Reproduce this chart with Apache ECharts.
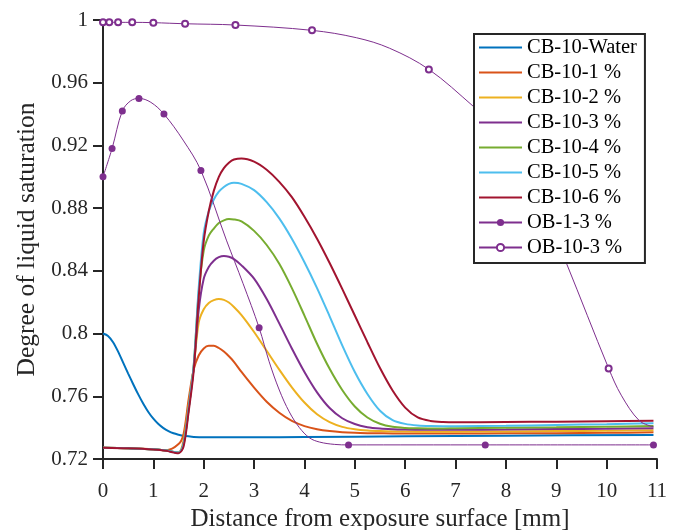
<!DOCTYPE html>
<html><head><meta charset="utf-8">
<script src="https://cdn.jsdelivr.net/npm/echarts@6/dist/echarts.min.js"></script>
<style>html,body{margin:0;padding:0;background:#fff}#c{width:678px;height:530px}</style>
</head><body><div id="c"></div>
<script>
// ---------- data ----------
const xTicks = [0,1,2,3,4,5,6,7,8,9,10,11];
const yTicks = [0.72,0.76,0.8,0.84,0.88,0.92,0.96,1];
const yTickLabels = ['0.72','0.76','0.8','0.84','0.88','0.92','0.96','1'];
const seriesNames = ['CB-10-Water','CB-10-1 %','CB-10-2 %','CB-10-3 %','CB-10-4 %','CB-10-5 %','CB-10-6 %','OB-1-3 %','OB-10-3 %'];

const waterX = [0,0.1,0.2,0.3,0.4,0.5,0.6,0.7,0.8,0.9,1.0,1.1,1.2,1.3,1.4,1.5,1.6,1.8,2.0,3,4,6,8,10.93];
const waterY = [0.800,0.7985,0.7945,0.7885,0.7815,0.7745,0.7677,0.7612,0.7552,0.750,0.7457,0.7423,0.7397,0.7378,0.7364,0.7355,0.7348,0.7341,0.7338,0.7338,0.734,0.7345,0.7349,0.7353];

const cbX = [0,0.5,1.0,1.25,1.5,1.6,1.7,1.8,1.9,2.0,2.1,2.2,2.3,2.4,2.5,2.6,2.75,3.0,3.25,3.5,3.75,4.0,4.25,4.5,4.75,5.0,5.25,5.5,5.75,6.0,6.25,6.5,6.75,7.0,8.0,9.0,10.0,10.93];
const cb1 = [0.7272,0.7268,0.7262,0.7256,0.7295,0.736,0.758,0.777,0.786,0.7905,0.7922,0.7922,0.7908,0.7885,0.7855,0.782,0.7755,0.7655,0.7565,0.7495,0.7443,0.741,0.739,0.7378,0.7371,0.7367,0.7365,0.7364,0.7363,0.7363,0.7363,0.7363,0.7363,0.7363,0.7364,0.7365,0.7367,0.737];
const cb2 = [0.7272,0.7268,0.7262,0.7254,0.7242,0.732,0.754,0.778,0.807,0.8155,0.8195,0.8213,0.822,0.8215,0.8198,0.817,0.8118,0.801,0.789,0.777,0.7657,0.756,0.7485,0.7435,0.7405,0.739,0.7382,0.7378,0.7376,0.7375,0.7374,0.7374,0.7374,0.7374,0.7376,0.7378,0.738,0.7383];
const cb3 = [0.7272,0.7268,0.7262,0.7254,0.724,0.730,0.752,0.778,0.815,0.835,0.8425,0.8465,0.8487,0.8495,0.849,0.8475,0.8435,0.835,0.822,0.8065,0.7905,0.7755,0.7625,0.7525,0.746,0.7423,0.7403,0.7394,0.739,0.7388,0.7387,0.7387,0.7387,0.7387,0.7388,0.7391,0.7393,0.7396];
const cb4 = [0.7272,0.7268,0.7262,0.7254,0.724,0.7295,0.752,0.779,0.826,0.853,0.8625,0.867,0.8705,0.8722,0.873,0.8728,0.8715,0.8655,0.8565,0.8445,0.829,0.8115,0.7935,0.7775,0.764,0.7535,0.7465,0.7425,0.7405,0.7398,0.7396,0.7395,0.7395,0.7396,0.7399,0.7402,0.7406,0.741];
const cb5 = [0.7272,0.7268,0.7262,0.7254,0.724,0.7295,0.752,0.779,0.829,0.864,0.878,0.8855,0.8905,0.8935,0.8955,0.8962,0.8955,0.8915,0.8838,0.8735,0.8605,0.8455,0.829,0.811,0.7925,0.7755,0.7615,0.7508,0.7448,0.7424,0.7414,0.741,0.7409,0.7409,0.7412,0.7417,0.7422,0.7428];
const cb6 = [0.7272,0.7268,0.726,0.7252,0.7237,0.728,0.750,0.776,0.823,0.859,0.878,0.891,0.900,0.9055,0.909,0.911,0.9117,0.9097,0.9045,0.8968,0.887,0.8745,0.8605,0.845,0.8285,0.8115,0.7945,0.778,0.7637,0.7528,0.7465,0.7443,0.7436,0.7434,0.7436,0.7438,0.7441,0.7444];

const ob1X = [0,0.18,0.384,0.55,0.714,0.95,1.21,1.59,1.944,2.45,2.78,3.10,3.3,3.5,3.7,3.9,4.1,4.3,4.6,4.875,7.59,10.93];
const ob1Y = [0.900,0.918,0.942,0.9485,0.950,0.9475,0.940,0.9234,0.904,0.8596,0.832,0.8037,0.782,0.764,0.750,0.740,0.7335,0.7308,0.7293,0.729,0.729,0.729];
const ob1MarkX = [0,0.18,0.384,0.714,1.21,1.944,3.10,4.875,7.59,10.93];

const ob10X = [0,0.125,0.30,0.58,1.0,1.63,2.63,4.15,5.03,5.69,6.47,7.35,8.0,8.6,9.2,10.04,10.29,10.65,10.93];
const ob10Y = [0.9985,0.9985,0.9985,0.9985,0.9983,0.9976,0.9968,0.9934,0.9887,0.982,0.9685,0.945,0.926,0.891,0.845,0.7778,0.7607,0.7444,0.7405];
const ob10MarkX = [0,0.125,0.30,0.58,1.0,1.63,2.63,4.15,6.47,10.04];

// ---------- styles ----------
const FONT = '"Liberation Serif","Times New Roman",serif';
const INK = '#262626';
const colors = ['#0072BD','#D95319','#EDB120','#7E2F8E','#77AC30','#4DBEEE','#A2142F','#7E2F8E','#7E2F8E'];
const LINE_ICON = 'path://M0 0H43V2H0Z';

function pairs(xs, ys){ return xs.map((x,i)=>[x, ys[i]]); }
function markedPairs(xs, ys, marks){
  return xs.map((x,i)=> marks.indexOf(x) >= 0 ? {value:[x,ys[i]]} : {value:[x,ys[i]], symbol:'none'});
}

const cbYs = [cb1,cb2,cb3,cb4,cb5,cb6];
const series = [];
series.push({name:seriesNames[0], type:'line', data:pairs(waterX,waterY), symbol:'none', smooth:0.3,
  lineStyle:{width:2,color:colors[0]}, itemStyle:{color:colors[0]}, z:2});
cbYs.forEach((ys,k)=>{
  series.push({name:seriesNames[k+1], type:'line', data:pairs(cbX,ys), symbol:'none', smooth:0.3,
    lineStyle:{width:2,color:colors[k+1]}, itemStyle:{color:colors[k+1]}, z:2});
});
series.push({name:seriesNames[7], type:'line', data:markedPairs(ob1X,ob1Y,ob1MarkX), symbol:'circle', symbolSize:7,
  showAllSymbol:true, smooth:0.35, lineStyle:{width:1,color:colors[7]}, itemStyle:{color:colors[7]}, z:3});
series.push({name:seriesNames[8], type:'line', data:markedPairs(ob10X,ob10Y,ob10MarkX), symbol:'emptyCircle', symbolSize:6,
  showAllSymbol:true, smooth:0.35, lineStyle:{width:1,color:colors[8]}, itemStyle:{color:colors[8], borderWidth:1}, z:3});

const legendData = seriesNames.map((n,i)=> i < 7 ? {name:n, icon:LINE_ICON} : {name:n});

const chart = echarts.init(document.getElementById('c'), null, {renderer:'canvas'});
chart.setOption({
  animation:false,
  backgroundColor:'#fff',
  grid:{left:103, right:21, top:20, bottom:71, containLabel:false, outerBoundsMode:'none'},
  xAxis:{type:'value', min:0, max:11, interval:1,
    name:'Distance from exposure surface [mm]', nameLocation:'middle', nameGap:43,
    nameTextStyle:{fontFamily:FONT, fontSize:25, color:INK},
    axisLine:{show:true, onZero:false, lineStyle:{color:INK, width:2}},
    axisTick:{show:true, inside:false, length:10, lineStyle:{color:INK, width:2}},
    axisLabel:{margin:22, fontFamily:FONT, fontSize:21, color:INK, formatter:v=>String(xTicks[Math.round(v)])},
    splitLine:{show:false}},
  yAxis:{type:'value', min:0.72, max:1, interval:0.04,
    name:'Degree of liquid saturation', nameLocation:'middle', nameGap:63, nameRotate:90,
    nameTextStyle:{fontFamily:FONT, fontSize:25.5, color:INK},
    axisLine:{show:true, onZero:false, lineStyle:{color:INK, width:2}},
    axisTick:{show:true, inside:false, length:10, lineStyle:{color:INK, width:2}},
    axisLabel:{margin:15, fontFamily:FONT, fontSize:21, color:INK,
      formatter:v=>{const i=yTicks.findIndex(t=>Math.abs(t-v)<1e-6); return i>=0?yTickLabels[i]:'';}},
    splitLine:{show:false}},
  legend:{orient:'vertical', left:474, top:34, data:legendData,
    backgroundColor:'#fff', borderColor:INK, borderWidth:2, borderRadius:0,
    padding:[3,8,5,4], itemGap:4, itemWidth:43, itemHeight:9, symbolKeepAspect:true,
    textStyle:{fontFamily:FONT, fontSize:20.5, color:'#000', lineHeight:21}},
  series:series
});
</script></body></html>
